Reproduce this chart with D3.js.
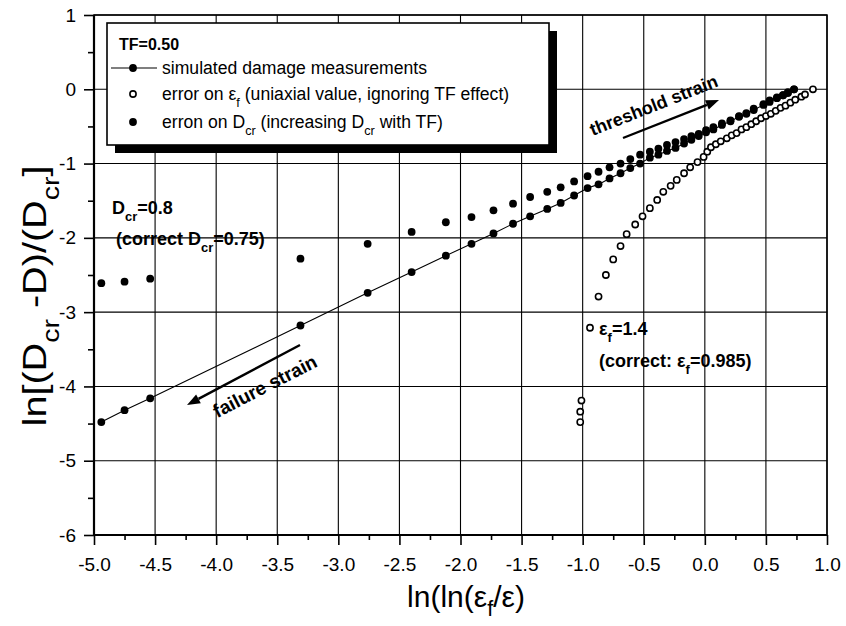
<!DOCTYPE html>
<html><head><meta charset="utf-8">
<script src="https://cdn.jsdelivr.net/npm/d3@7"></script>
<style>
body{margin:0;background:#fff}
svg{display:block}
text{font-family:"Liberation Sans",Arial,Helvetica,sans-serif;fill:#000}
</style>
</head><body>
<svg id="c" width="846" height="626"></svg>
<script>
// ---------------- data ----------------
const xTickValues = [-5.0,-4.5,-4.0,-3.5,-3.0,-2.5,-2.0,-1.5,-1.0,-0.5,0.0,0.5,1.0];
const xTickLabels = ["-5.0","-4.5","-4.0","-3.5","-3.0","-2.5","-2.0","-1.5","-1.0","-0.5","0.0","0.5","1.0"];
const xMinorTicks = [-4.75,-4.25,-3.75,-3.25,-2.75,-2.25,-1.75,-1.25,-0.75,-0.25,0.25,0.75];
const yTickValues = [1,0,-1,-2,-3,-4,-5,-6];
const yTickLabels = ["1","0","-1","-2","-3","-4","-5","-6"];
const yMinorTicks = [0.5,-0.5,-1.5,-2.5,-3.5,-4.5,-5.5];

// x positions of the simulated damage measurements (shared by the D_cr error series)
const xMeasured = [-4.94,-4.75,-4.54,-3.31,-2.76,-2.40,-2.12,-1.91,-1.73,-1.57,-1.43,-1.29,-1.18,-1.07,-0.96,-0.87,-0.78,-0.69,-0.61,-0.53,-0.45,-0.38,-0.31,-0.24,-0.17,-0.11,-0.05,0.01,0.07,0.14,0.21,0.28,0.34,0.40,0.48,0.53,0.59,0.64,0.68,0.73];
// simulated damage measurements (filled dots + line)
const ySimulated = [-4.48,-4.32,-4.16,-3.18,-2.74,-2.46,-2.24,-2.08,-1.94,-1.81,-1.71,-1.61,-1.53,-1.43,-1.33,-1.28,-1.20,-1.13,-1.06,-1.00,-0.92,-0.88,-0.83,-0.79,-0.73,-0.68,-0.63,-0.58,-0.54,-0.48,-0.43,-0.37,-0.33,-0.28,-0.21,-0.17,-0.12,-0.08,-0.05,0.00];
// error on D_cr (filled dots, no line)
const yDcrError = [-2.61,-2.59,-2.55,-2.28,-2.08,-1.92,-1.79,-1.72,-1.63,-1.54,-1.45,-1.38,-1.32,-1.24,-1.17,-1.11,-1.05,-1.00,-0.94,-0.88,-0.84,-0.80,-0.75,-0.71,-0.67,-0.63,-0.60,-0.55,-0.51,-0.46,-0.42,-0.36,-0.32,-0.26,-0.20,-0.15,-0.11,-0.08,-0.04,0.00];
// error on eps_f (open circles)
const xEfError = [-1.02,-1.02,-1.01,-0.94,-0.87,-0.81,-0.75,-0.69,-0.64,-0.57,-0.51,-0.45,-0.39,-0.34,-0.28,-0.23,-0.17,-0.12,-0.06,-0.01,0.02,0.05,0.09,0.13,0.18,0.22,0.26,0.30,0.34,0.38,0.42,0.46,0.50,0.54,0.58,0.62,0.66,0.70,0.74,0.79,0.82,0.885];
const yEfError = [-4.48,-4.34,-4.19,-3.21,-2.79,-2.50,-2.29,-2.11,-1.95,-1.82,-1.71,-1.60,-1.49,-1.38,-1.30,-1.22,-1.13,-1.05,-0.98,-0.91,-0.84,-0.78,-0.74,-0.70,-0.66,-0.62,-0.59,-0.54,-0.51,-0.47,-0.43,-0.39,-0.36,-0.33,-0.29,-0.25,-0.22,-0.18,-0.14,-0.10,-0.07,0.00];

// ---------------- chart ----------------
const svg = d3.select("#c");
const x = d3.scaleLinear().domain([-5,1]).range([94,827]);
const y = d3.scaleLinear().domain([-6,1]).range([535,15]);
const FONT = '"Liberation Sans",Arial,Helvetica,sans-serif';

// grid
const grid = svg.append("g");
grid.selectAll("line.vx").data(xTickValues).join("line")
  .attr("x1",d=>x(d)).attr("x2",d=>x(d)).attr("y1",y(-6)).attr("y2",y(1))
  .attr("stroke","#000").attr("stroke-width",1.1);
grid.selectAll("line.hy").data(yTickValues).join("line")
  .attr("y1",d=>y(d)).attr("y2",d=>y(d)).attr("x1",x(-5)).attr("x2",x(1))
  .attr("stroke","#000").attr("stroke-width",1.1);

// axes
function styleAxis(g, fs){
  g.select(".domain").remove();
  g.selectAll(".tick line").attr("stroke","#000").attr("stroke-width",1.6);
  g.selectAll(".tick text").attr("font-size",fs).attr("font-family",FONT).attr("fill","#000");
}
const xAxis = svg.append("g").attr("transform",`translate(0,${y(-6)})`)
  .call(d3.axisBottom(x).tickValues(xTickValues).tickFormat((d,i)=>xTickLabels[i]).tickSize(10).tickPadding(13));
styleAxis(xAxis, 19);
const xMinor = svg.append("g").attr("transform",`translate(0,${y(-6)})`)
  .call(d3.axisBottom(x).tickValues(xMinorTicks).tickFormat("").tickSize(5));
styleAxis(xMinor, 0);
const yAxis = svg.append("g").attr("transform",`translate(${x(-5)},0)`)
  .call(d3.axisLeft(y).tickValues(yTickValues).tickFormat((d,i)=>yTickLabels[i]).tickSize(10).tickPadding(8));
styleAxis(yAxis, 19);
const yMinor = svg.append("g").attr("transform",`translate(${x(-5)},0)`)
  .call(d3.axisLeft(y).tickValues(yMinorTicks).tickFormat("").tickSize(6));
styleAxis(yMinor, 0);

// frame
svg.append("rect").attr("x",x(-5)).attr("y",y(1)).attr("width",x(1)-x(-5)).attr("height",y(-6)-y(1))
  .attr("fill","none").attr("stroke","#000").attr("stroke-width",1.5);
svg.append("line").attr("x1",x(-5)).attr("x2",x(-5)).attr("y1",y(1)).attr("y2",y(-6)).attr("stroke","#000").attr("stroke-width",2.2);
svg.append("line").attr("x1",x(-5)).attr("x2",x(1)).attr("y1",y(-6)).attr("y2",y(-6)).attr("stroke","#000").attr("stroke-width",2.2);

// rich text helper (subscripts)
function rich(parent, px, py, parts, fs, weight, extra, subShift){
  const sh = subShift || 0.38;
  const t = parent.append("text").attr("x",px).attr("y",py).attr("font-size",fs)
    .attr("font-weight",weight||"normal").attr("font-family",FONT);
  if(extra) extra(t);
  let shifted = false;
  parts.forEach(p=>{
    const isSub = Array.isArray(p);
    const s = isSub ? p[0] : p;
    const ts = t.append("tspan").text(s);
    if(isSub){ ts.attr("font-size",fs*0.72).attr("dy",fs*sh); shifted = true; }
    else if(shifted){ ts.attr("dy",-fs*sh); shifted = false; }
  });
  return t;
}

// simulated line
const pts = xMeasured.map((v,i)=>[v,ySimulated[i]]);
svg.append("path").datum(pts).attr("fill","none").attr("stroke","#000").attr("stroke-width",1.1)
  .attr("d",d3.line().x(d=>x(d[0])).y(d=>y(d[1])));
// D_cr error dots
svg.append("g").selectAll("circle").data(xMeasured.map((v,i)=>[v,yDcrError[i]])).join("circle")
  .attr("cx",d=>x(d[0])).attr("cy",d=>y(d[1])).attr("r",3.9).attr("fill","#000");
// simulated dots
svg.append("g").selectAll("circle").data(pts).join("circle")
  .attr("cx",d=>x(d[0])).attr("cy",d=>y(d[1])).attr("r",3.9).attr("fill","#000");
// eps_f error open circles
svg.append("g").selectAll("circle").data(xEfError.map((v,i)=>[v,yEfError[i]])).join("circle")
  .attr("cx",d=>x(d[0])).attr("cy",d=>y(d[1])).attr("r",3.1).attr("fill","#fff")
  .attr("stroke","#000").attr("stroke-width",1.6);

// arrows
function arrow(x1,y1,x2,y2){
  const g = svg.append("g");
  const ang = Math.atan2(y2-y1,x2-x1), L=13, W=5;
  const bx = x2-L*Math.cos(ang), by = y2-L*Math.sin(ang);
  g.append("line").attr("x1",x1).attr("y1",y1).attr("x2",bx).attr("y2",by).attr("stroke","#000").attr("stroke-width",2.4);
  g.append("path").attr("d",`M${x2},${y2}L${bx+W*Math.sin(ang)},${by-W*Math.cos(ang)}L${bx-W*Math.sin(ang)},${by+W*Math.cos(ang)}Z`).attr("fill","#000");
}
arrow(623,138,719,100);
arrow(300,345,187,405);
svg.append("text").attr("transform","translate(656,111) rotate(-21.6)").attr("text-anchor","middle")
  .attr("font-size",18).attr("font-weight","bold").attr("font-family",FONT).text("threshold strain");
svg.append("text").attr("transform","translate(268,392) rotate(-27.3)").attr("text-anchor","middle")
  .attr("font-size",19).attr("font-weight","bold").attr("font-family",FONT).text("failure strain");

// annotations
rich(svg,112,214,["D",["cr"],"=0.8"],18,"bold");
rich(svg,116,245,["(correct D",["cr"],"=0.75)"],18,"bold");
rich(svg,599,335,["ε",["f"],"=1.4"],18,"bold");
rich(svg,599,367,["(correct: ε",["f"],"=0.985)"],18,"bold");

// legend
const lg = svg.append("g");
lg.append("rect").attr("x",115).attr("y",31).attr("width",442).attr("height",122).attr("fill","#000");
lg.append("rect").attr("x",107).attr("y",23).attr("width",442).attr("height",122).attr("fill","#fff")
  .attr("stroke","#000").attr("stroke-width",1.6);
lg.append("text").attr("x",119).attr("y",50).attr("font-size",16).attr("font-weight","bold").attr("font-family",FONT).text("TF=0.50");
lg.append("line").attr("x1",111).attr("x2",157).attr("y1",68).attr("y2",68).attr("stroke","#000").attr("stroke-width",1.2);
lg.append("circle").attr("cx",133).attr("cy",68).attr("r",3.9).attr("fill","#000");
lg.append("circle").attr("cx",133).attr("cy",94).attr("r",3.1).attr("fill","#fff").attr("stroke","#000").attr("stroke-width",1.6);
lg.append("circle").attr("cx",133).attr("cy",122).attr("r",3.9).attr("fill","#000");
rich(lg,162,74,["simulated damage measurements"],17.6,"normal");
rich(lg,162,100,["error on ε",["f"]," (uniaxial value, ignoring TF effect)"],17.6,"normal");
rich(lg,162,128,["erron on D",["cr"]," (increasing D",["cr"]," with TF)"],17.6,"normal");

// axis titles
rich(svg,466,607,["ln(ln(ε",["f"],"/ε)"],30,"normal",t=>t.attr("text-anchor","middle"),0.3);
rich(svg,0,0,["ln[(D",["cr"]," -D)/(D",["cr"],"]"],33,"normal",
  t=>t.attr("text-anchor","middle").attr("transform","translate(46,296) rotate(-90) scale(1.2,1)"));
</script>
</body></html>
